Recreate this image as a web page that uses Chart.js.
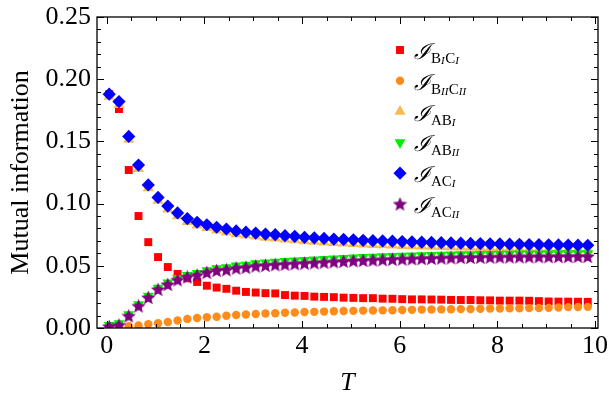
<!DOCTYPE html>
<html>
<head>
<meta charset="utf-8">
<script src="https://cdn.jsdelivr.net/npm/chart.js@4.4.1/dist/chart.umd.min.js"></script>
<style>
  html, body { margin: 0; padding: 0; background: #fff; }
  #c { display: block; }
</style>
</head>
<body>
<canvas id="c" width="609" height="399"></canvas>
<script>
// time grid
var tVals = [0.05,0.25,0.45,0.65,0.85,1.05,1.25,1.45,1.65,1.85,2.05,2.25,2.45,2.65,2.85,3.05,3.25,3.45,3.65,3.85,
             4.05,4.25,4.45,4.65,4.85,5.05,5.25,5.45,5.65,5.85,6.05,6.25,6.45,6.65,6.85,7.05,7.25,7.45,7.65,7.85,
             8.05,8.25,8.45,8.65,8.85,9.05,9.25,9.45,9.65,9.85];

var iBC1 = [0.188,0.176,0.127,0.090,0.069,0.057,0.049,0.0435,0.040,0.037,0.034,0.0325,0.0315,0.030,0.029,0.0285,0.028,0.0278,0.0265,0.026,
            0.0258,0.0252,0.025,0.0248,0.0244,0.0242,0.024,0.024,0.0236,0.0235,0.0232,0.023,0.023,0.0229,0.0228,0.0226,0.0225,0.0225,0.0223,0.0222,
            0.022,0.022,0.022,0.0219,0.0216,0.0213,0.0212,0.0212,0.0211,0.021];
var iBC2 = [0.0002,0.0006,0.0015,0.0021,0.003,0.0038,0.0048,0.006,0.0073,0.008,0.0086,0.0091,0.0098,0.0104,0.0108,0.0112,0.0116,0.0119,0.0123,0.0125,
            0.0129,0.013,0.0132,0.0135,0.0137,0.0138,0.014,0.0141,0.0142,0.0143,0.0145,0.0146,0.0148,0.0149,0.015,0.0151,0.0152,0.0153,0.0155,0.0156,
            0.0157,0.0158,0.0159,0.016,0.0161,0.0162,0.0165,0.0168,0.0169,0.017];
var iAB1 = [0.186,0.1795,0.1515,0.128,0.1125,0.1025,0.0955,0.09,0.0855,0.0825,0.0805,0.0785,0.077,0.0755,0.0745,0.0737,0.0728,0.0722,0.0714,0.0708,
            0.07,0.0696,0.069,0.0685,0.0681,0.0678,0.0674,0.067,0.0668,0.0665,0.0662,0.0659,0.0657,0.0655,0.0653,0.0651,0.0649,0.0647,0.0645,0.0643,
            0.0642,0.064,0.0639,0.0637,0.0636,0.0635,0.0634,0.0633,0.0632,0.0631];
var iAB2 = [0.0022,0.0036,0.0109,0.019,0.0258,0.0323,0.0364,0.0401,0.0425,0.0441,0.0463,0.048,0.0487,0.0501,0.0508,0.052,0.0526,0.0532,0.0537,0.0541,
            0.0546,0.055,0.0554,0.0558,0.0562,0.0566,0.0569,0.0572,0.0575,0.0578,0.058,0.0582,0.0584,0.0586,0.0588,0.059,0.0591,0.0592,0.0593,0.0594,
            0.0595,0.0596,0.0597,0.0597,0.0598,0.0598,0.0599,0.0599,0.06,0.06];
var iAC1 = [0.188,0.182,0.154,0.131,0.115,0.105,0.098,0.0925,0.088,0.085,0.083,0.081,0.0796,0.078,0.077,0.0763,0.0755,0.075,0.0742,0.0737,
            0.0729,0.0725,0.072,0.0715,0.0712,0.0709,0.0705,0.0702,0.07,0.0698,0.0695,0.0692,0.069,0.0688,0.0686,0.0684,0.0682,0.068,0.0679,0.0677,
            0.0676,0.0674,0.0673,0.0671,0.067,0.0669,0.0668,0.0667,0.0666,0.0665];
var iAC2 = [0.0012,0.0024,0.0097,0.0177,0.0245,0.031,0.035,0.0387,0.041,0.0425,0.0446,0.0462,0.0468,0.0481,0.0487,0.0498,0.0503,0.0508,0.0512,0.0516,
            0.052,0.0524,0.0528,0.0532,0.0536,0.054,0.0543,0.0546,0.0549,0.0552,0.0554,0.0556,0.0558,0.056,0.0562,0.0564,0.0566,0.0567,0.0568,0.0569,
            0.057,0.0571,0.0572,0.0572,0.0573,0.0573,0.0574,0.0574,0.0575,0.0575];

var xTicks = [0, 2, 4, 6, 8, 10];
var yTicks = [0, 0.05, 0.10, 0.15, 0.20, 0.25];

// legend text pieces: main subscript parts, small italic roman numerals
var legendSubs = [
  [["B", "I"], ["C", "I"]],
  [["B", "II"], ["C", "II"]],
  [["AB", "I"]],
  [["AB", "II"]],
  [["AC", "I"]],
  [["AC", "II"]]
];

var serif = "'Liberation Serif', 'Times New Roman', serif";

function makeStar(size, color) {
  var c = document.createElement('canvas');
  c.width = size; c.height = size;
  var g = c.getContext('2d');
  var cx = size / 2, cy = size / 2 + 0.6, R = size / 2, r = R * 0.45;
  g.beginPath();
  for (var k = 0; k < 10; k++) {
    var a = -Math.PI / 2 + k * Math.PI / 5;
    var rr = k % 2 ? r : R;
    g.lineTo(cx + rr * Math.cos(a), cy + rr * Math.sin(a));
  }
  g.closePath();
  g.fillStyle = color;
  g.fill();
  return c;
}
var starImg = makeStar(15, '#800080');

function pts(ys) {
  return tVals.map(function (t, i) { return {x: t, y: ys[i]}; });
}

var series = [
  {data: iBC1, color: '#ff0000', style: 'rect', r: 5.6, rot: 0, order: 6},
  {data: iBC2, color: '#ff8c1a', style: 'circle', r: 4.2, rot: 0, order: 5},
  {data: iAB1, color: '#f7bb55', style: 'triangle', r: 6.5, rot: 0, order: 4},
  {data: iAB2, color: '#00ee00', style: 'triangle', r: 6.3, rot: 180, order: 3},
  {data: iAC1, color: '#0000ff', style: 'rectRot', r: 6.6, rot: 0, order: 2},
  {data: iAC2, color: '#800080', style: starImg, r: 7, rot: 0, order: 1}
];

var datasets = series.map(function (s) {
  return {
    data: pts(s.data),
    showLine: false,
    pointStyle: s.style,
    pointRadius: s.r,
    pointRotation: s.rot,
    pointBackgroundColor: s.color,
    pointBorderColor: s.color,
    pointBorderWidth: 0,
    order: s.order
  };
});

var framePlugin = {
  id: 'frame',
  afterDraw: function (chart) {
    var ctx = chart.ctx, a = chart.chartArea;
    var xs = chart.scales.x, ys = chart.scales.y;
    ctx.save();
    ctx.strokeStyle = '#000';
    ctx.lineWidth = 1.3;
    ctx.strokeRect(a.left, a.top, a.right - a.left, a.bottom - a.top);
    ctx.lineWidth = 1;
    ctx.beginPath();
    // y ticks every 0.01, major every 0.05
    for (var k = 0; k <= 25; k++) {
      var py = Math.round(ys.getPixelForValue(k / 100)) + 0.5;
      var len = (k % 5 === 0) ? 7 : 4;
      ctx.moveTo(a.left, py); ctx.lineTo(a.left + len, py);
      ctx.moveTo(a.right, py); ctx.lineTo(a.right - len, py);
    }
    // x ticks every 0.5, major every 2
    for (var m = 0; m <= 20; m++) {
      var px = Math.round(xs.getPixelForValue(m / 2)) + 0.5;
      var l2 = (m % 4 === 0) ? 7 : 4;
      ctx.moveTo(px, a.bottom); ctx.lineTo(px, a.bottom - l2);
      ctx.moveTo(px, a.top); ctx.lineTo(px, a.top + l2);
    }
    ctx.stroke();

    // legend
    var lx = 400, ly0 = 50, dy = 30.8;
    series.forEach(function (s, i) {
      var y = ly0 + i * dy;
      ctx.fillStyle = s.color;
      if (typeof s.style === 'string') {
        Chart.helpers.drawPoint(ctx, {pointStyle: s.style, radius: s.r, rotation: s.rot, borderWidth: 0}, lx, y);
      } else {
        ctx.drawImage(s.style, lx - s.style.width / 2, y - s.style.height / 2);
      }
      ctx.fillStyle = '#000';
      ctx.textBaseline = 'alphabetic';
      ctx.textAlign = 'left';
      var x = 414;
      ctx.font = "italic 22px 'DejaVu Serif', serif";
      ctx.fillText('\u2110', x, y + 9);
      x += ctx.measureText('\u2110').width + 1;
      legendSubs[i].forEach(function (part) {
        ctx.font = '15px ' + serif;
        ctx.fillText(part[0], x, y + 13);
        x += ctx.measureText(part[0]).width;
        ctx.font = 'italic 11px ' + serif;
        ctx.fillText(part[1], x, y + 14);
        x += ctx.measureText(part[1]).width + 0.5;
      });
    });
    ctx.restore();
  }
};

new Chart(document.getElementById('c'), {
  type: 'scatter',
  data: {datasets: datasets},
  options: {
    responsive: false,
    animation: false,
    layout: {padding: {left: 0, right: 11, top: 17, bottom: 0}},
    plugins: {legend: {display: false}, tooltip: {enabled: false}},
    scales: {
      x: {
        type: 'linear',
        min: -0.2,
        max: 10.06,
        grid: {display: false, drawTicks: false},
        border: {display: false},
        afterBuildTicks: function (scale) { scale.ticks = xTicks.map(function (v) { return {value: v}; }); },
        afterFit: function (scale) { scale.height = 71; scale.paddingLeft = 0; scale.paddingRight = 0; },
        ticks: {
          color: '#000',
          padding: 3,
          maxRotation: 0,
          font: {family: serif, size: 26},
          callback: function (v) { return String(v); }
        },
        title: {
          display: true,
          text: 'T',
          color: '#000',
          padding: {top: 0, bottom: 0},
          font: {family: serif, size: 26, style: 'italic'}
        }
      },
      y: {
        type: 'linear',
        min: 0,
        max: 0.25,
        grid: {display: false, drawTicks: false},
        border: {display: false},
        afterBuildTicks: function (scale) { scale.ticks = yTicks.map(function (v) { return {value: v}; }); },
        afterFit: function (scale) { scale.width = 97; scale.paddingTop = 0; scale.paddingBottom = 0; },
        ticks: {
          color: '#000',
          padding: 6,
          font: {family: serif, size: 26},
          callback: function (v) { return Number(v).toFixed(2); }
        },
        title: {
          display: true,
          text: 'Mutual information',
          color: '#000',
          padding: {top: 6, bottom: 0},
          font: {family: serif, size: 26}
        }
      }
    }
  },
  plugins: [framePlugin]
});
</script>
</body>
</html>
